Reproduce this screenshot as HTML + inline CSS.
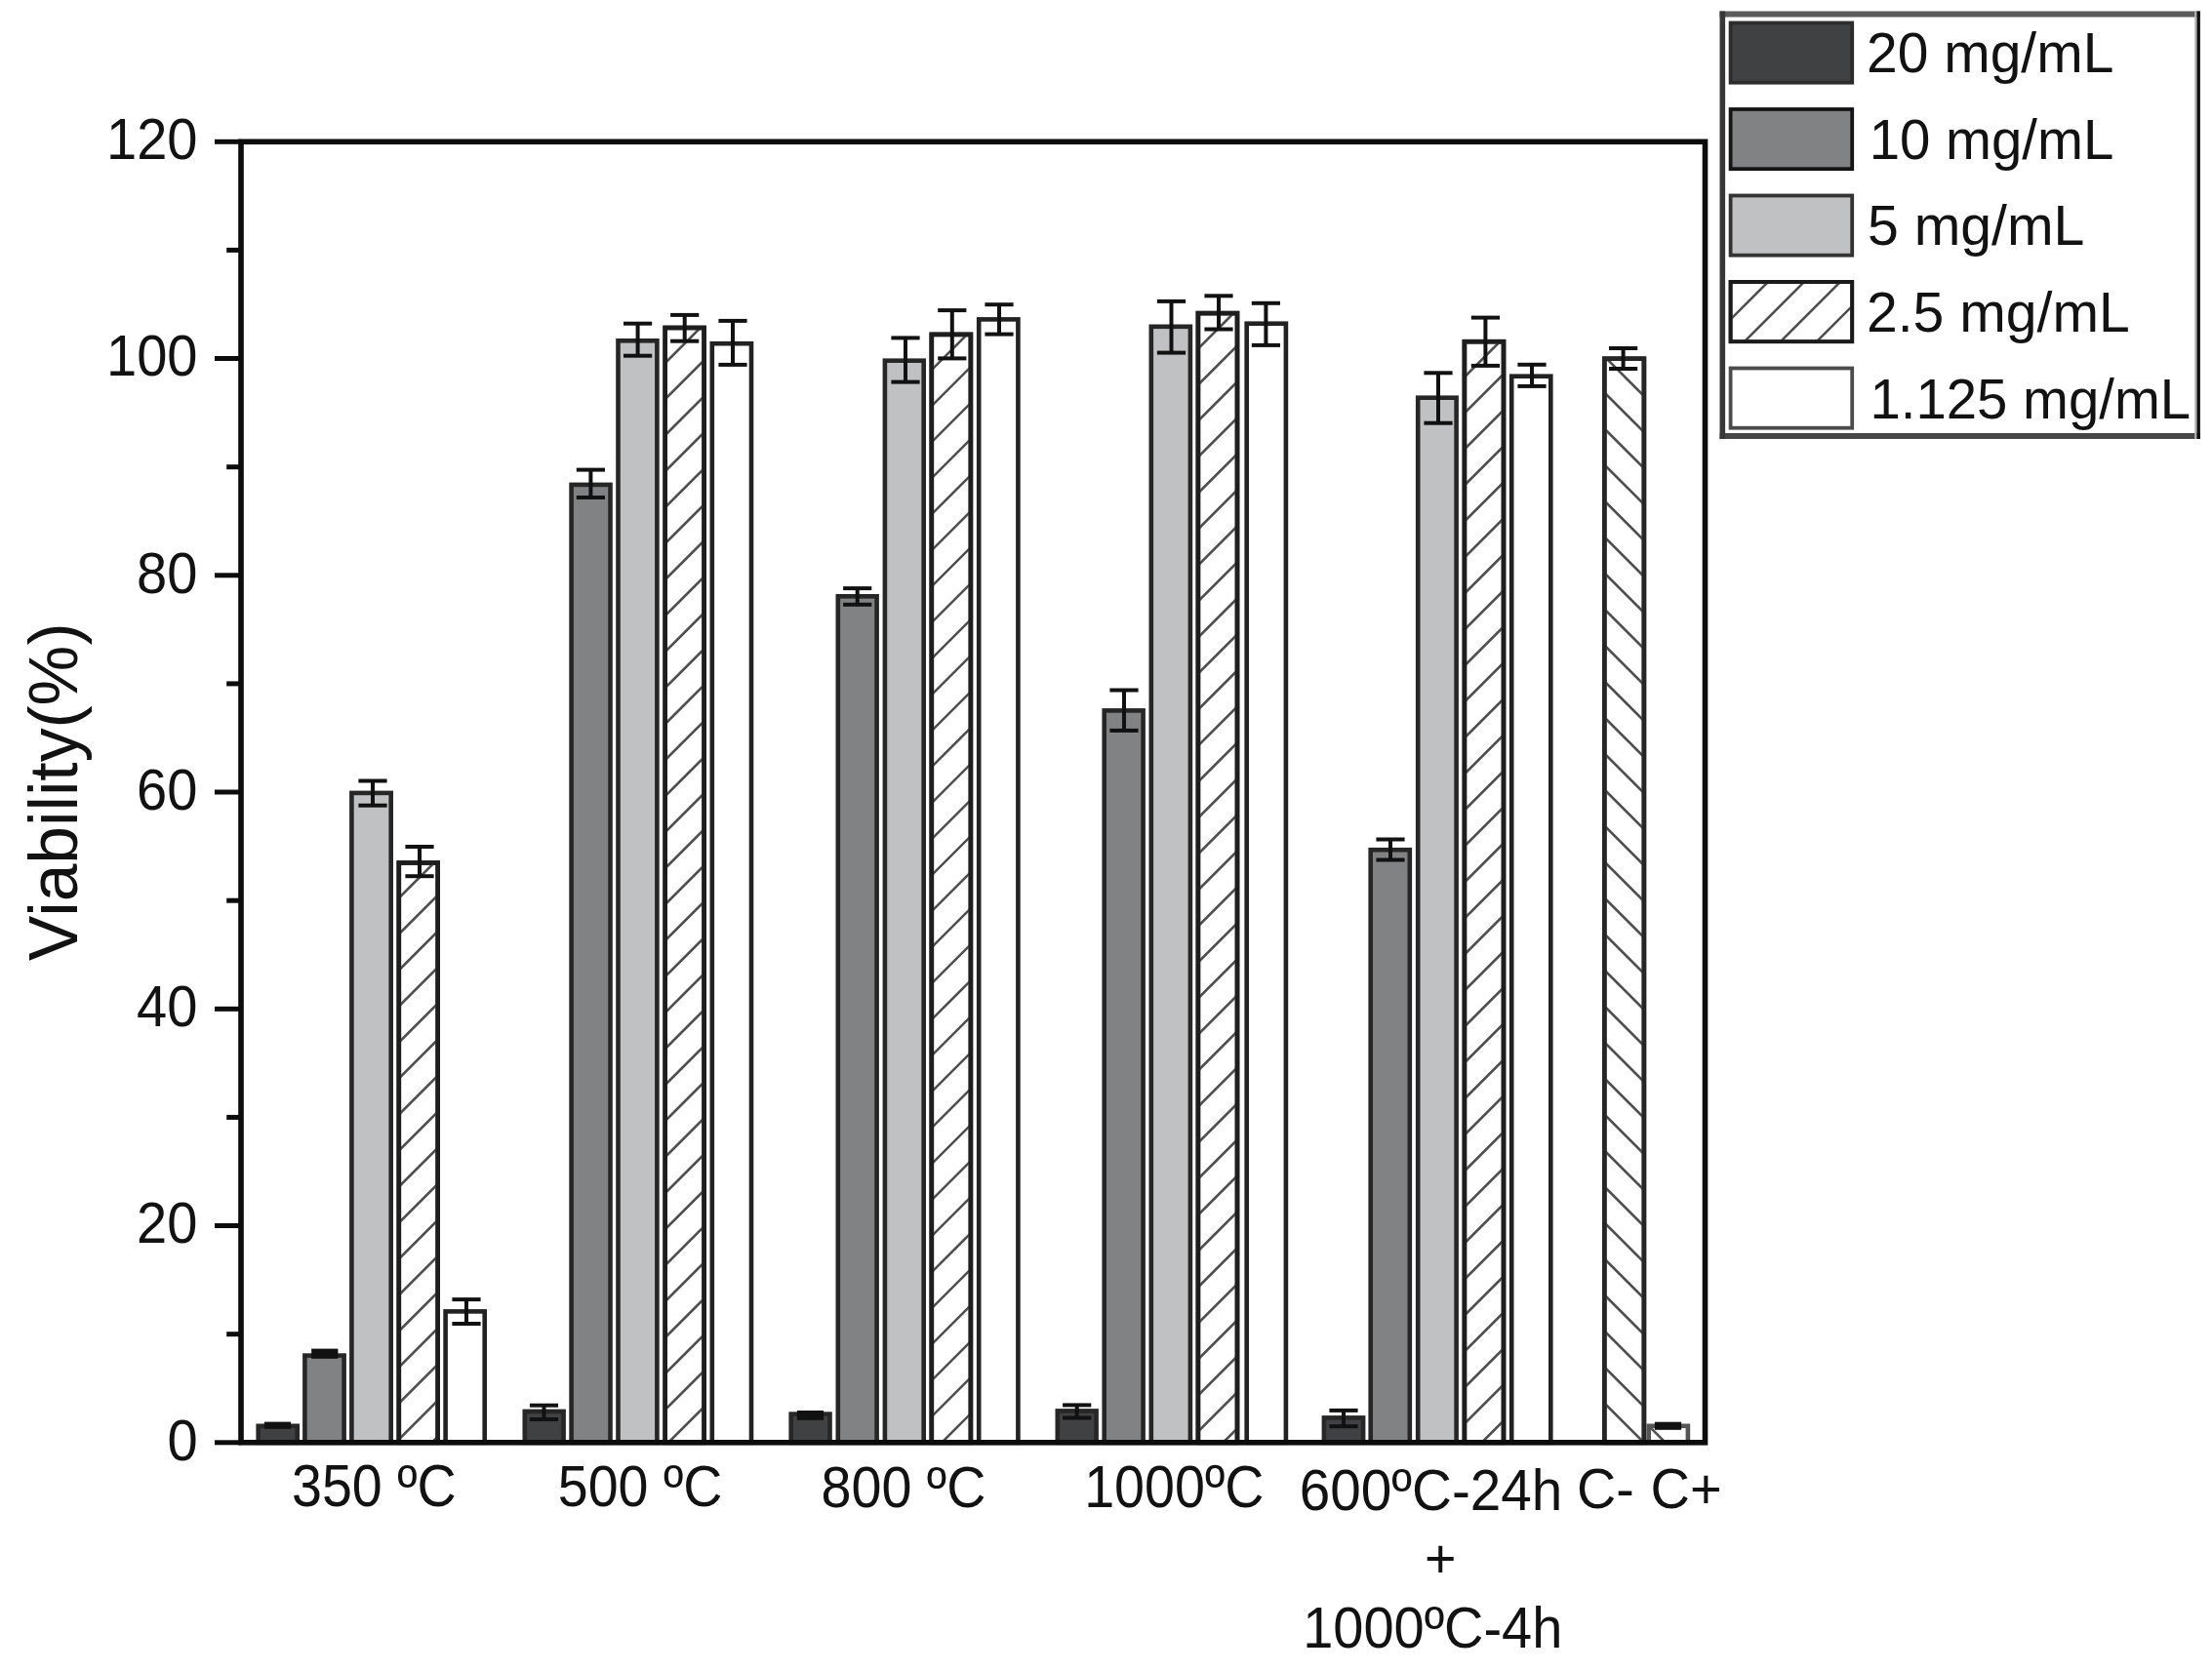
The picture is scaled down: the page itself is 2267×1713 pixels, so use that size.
<!DOCTYPE html>
<html lang="en"><head><meta charset="utf-8"><title>Viability chart</title>
<style>html,body{margin:0;padding:0;background:#fff;}body{width:2267px;height:1713px;overflow:hidden;}svg{display:block;filter:blur(0.7px);}text{font-family:'Liberation Sans', sans-serif;fill:#121212;}</style>
</head><body>
<svg width="2267" height="1713" viewBox="0 0 2267 1713">
<rect x="0" y="0" width="2267" height="1713" fill="#ffffff"/>
<defs>
<clipPath id="c3"><rect x="408.8" y="884.5" width="39.9" height="594.3"/></clipPath>
<clipPath id="c8"><rect x="681.7" y="336.0" width="39.9" height="1142.8"/></clipPath>
<clipPath id="c13"><rect x="954.8" y="342.9" width="40.1" height="1135.9"/></clipPath>
<clipPath id="c18"><rect x="1227.9" y="321.1" width="40.1" height="1157.7"/></clipPath>
<clipPath id="c23"><rect x="1500.9" y="350.2" width="40.1" height="1128.6"/></clipPath>
<clipPath id="c25"><rect x="1644.3" y="367.7" width="40.6" height="1111.1"/></clipPath>
<clipPath id="cl"><rect x="1774" y="289.5" width="124" height="60"/></clipPath>
</defs>
<g id="bars">
<rect x="264.7" y="1461.8" width="40.0" height="17.0" fill="#404143" stroke="#272728" stroke-width="4.6"/>
<rect x="312.4" y="1389.6" width="40.2" height="89.2" fill="#808284" stroke="#262627" stroke-width="4.6"/>
<rect x="360.4" y="812.9" width="40.3" height="665.9" fill="#c0c1c3" stroke="#262627" stroke-width="4.6"/>
<rect x="408.8" y="884.5" width="39.9" height="594.3" fill="#ffffff" stroke="#1e1e1e" stroke-width="4.6"/>
<g clip-path="url(#c3)" stroke="#4e4e4e" stroke-width="2.6">
<line x1="452.4" y1="840.0" x2="405.1" y2="887.3"/>
<line x1="452.4" y1="877.0" x2="405.1" y2="924.3"/>
<line x1="452.4" y1="914.0" x2="405.1" y2="961.3"/>
<line x1="452.4" y1="951.0" x2="405.1" y2="998.3"/>
<line x1="452.4" y1="988.0" x2="405.1" y2="1035.3"/>
<line x1="452.4" y1="1025.0" x2="405.1" y2="1072.3"/>
<line x1="452.4" y1="1062.0" x2="405.1" y2="1109.3"/>
<line x1="452.4" y1="1099.0" x2="405.1" y2="1146.3"/>
<line x1="452.4" y1="1136.0" x2="405.1" y2="1183.3"/>
<line x1="452.4" y1="1173.0" x2="405.1" y2="1220.3"/>
<line x1="452.4" y1="1210.0" x2="405.1" y2="1257.3"/>
<line x1="452.4" y1="1247.0" x2="405.1" y2="1294.3"/>
<line x1="452.4" y1="1284.0" x2="405.1" y2="1331.3"/>
<line x1="452.4" y1="1321.0" x2="405.1" y2="1368.3"/>
<line x1="452.4" y1="1358.0" x2="405.1" y2="1405.3"/>
<line x1="452.4" y1="1395.0" x2="405.1" y2="1442.3"/>
<line x1="452.4" y1="1432.0" x2="405.1" y2="1479.3"/>
<line x1="452.4" y1="1469.0" x2="405.1" y2="1516.3"/>
<line x1="452.4" y1="1506.0" x2="405.1" y2="1553.3"/>
<line x1="452.4" y1="1543.0" x2="405.1" y2="1590.3"/>
</g>
<rect x="408.8" y="884.5" width="39.9" height="594.3" fill="none" stroke="#1e1e1e" stroke-width="4.6"/>
<rect x="456.6" y="1344.4" width="40.1" height="134.4" fill="#ffffff" stroke="#222222" stroke-width="4.6"/>
<rect x="537.8" y="1446.9" width="39.8" height="31.9" fill="#404143" stroke="#272728" stroke-width="4.6"/>
<rect x="585.6" y="496.9" width="39.9" height="981.9" fill="#808284" stroke="#262627" stroke-width="4.6"/>
<rect x="633.5" y="349.3" width="39.9" height="1129.5" fill="#c0c1c3" stroke="#262627" stroke-width="4.6"/>
<rect x="681.7" y="336.0" width="39.9" height="1142.8" fill="#ffffff" stroke="#1e1e1e" stroke-width="4.6"/>
<g clip-path="url(#c8)" stroke="#4e4e4e" stroke-width="2.6">
<line x1="725.3" y1="291.5" x2="678.0" y2="338.8"/>
<line x1="725.3" y1="328.5" x2="678.0" y2="375.8"/>
<line x1="725.3" y1="365.5" x2="678.0" y2="412.8"/>
<line x1="725.3" y1="402.5" x2="678.0" y2="449.8"/>
<line x1="725.3" y1="439.5" x2="678.0" y2="486.8"/>
<line x1="725.3" y1="476.5" x2="678.0" y2="523.8"/>
<line x1="725.3" y1="513.5" x2="678.0" y2="560.8"/>
<line x1="725.3" y1="550.5" x2="678.0" y2="597.8"/>
<line x1="725.3" y1="587.5" x2="678.0" y2="634.8"/>
<line x1="725.3" y1="624.5" x2="678.0" y2="671.8"/>
<line x1="725.3" y1="661.5" x2="678.0" y2="708.8"/>
<line x1="725.3" y1="698.5" x2="678.0" y2="745.8"/>
<line x1="725.3" y1="735.5" x2="678.0" y2="782.8"/>
<line x1="725.3" y1="772.5" x2="678.0" y2="819.8"/>
<line x1="725.3" y1="809.5" x2="678.0" y2="856.8"/>
<line x1="725.3" y1="846.5" x2="678.0" y2="893.8"/>
<line x1="725.3" y1="883.5" x2="678.0" y2="930.8"/>
<line x1="725.3" y1="920.5" x2="678.0" y2="967.8"/>
<line x1="725.3" y1="957.5" x2="678.0" y2="1004.8"/>
<line x1="725.3" y1="994.5" x2="678.0" y2="1041.8"/>
<line x1="725.3" y1="1031.5" x2="678.0" y2="1078.8"/>
<line x1="725.3" y1="1068.5" x2="678.0" y2="1115.8"/>
<line x1="725.3" y1="1105.5" x2="678.0" y2="1152.8"/>
<line x1="725.3" y1="1142.5" x2="678.0" y2="1189.8"/>
<line x1="725.3" y1="1179.5" x2="678.0" y2="1226.8"/>
<line x1="725.3" y1="1216.5" x2="678.0" y2="1263.8"/>
<line x1="725.3" y1="1253.5" x2="678.0" y2="1300.8"/>
<line x1="725.3" y1="1290.5" x2="678.0" y2="1337.8"/>
<line x1="725.3" y1="1327.5" x2="678.0" y2="1374.8"/>
<line x1="725.3" y1="1364.5" x2="678.0" y2="1411.8"/>
<line x1="725.3" y1="1401.5" x2="678.0" y2="1448.8"/>
<line x1="725.3" y1="1438.5" x2="678.0" y2="1485.8"/>
<line x1="725.3" y1="1475.5" x2="678.0" y2="1522.8"/>
<line x1="725.3" y1="1512.5" x2="678.0" y2="1559.8"/>
</g>
<rect x="681.7" y="336.0" width="39.9" height="1142.8" fill="none" stroke="#1e1e1e" stroke-width="4.6"/>
<rect x="729.8" y="352.2" width="40.2" height="1126.6" fill="#ffffff" stroke="#222222" stroke-width="4.6"/>
<rect x="810.7" y="1449.6" width="39.8" height="29.2" fill="#404143" stroke="#272728" stroke-width="4.6"/>
<rect x="858.8" y="611.3" width="39.8" height="867.5" fill="#808284" stroke="#262627" stroke-width="4.6"/>
<rect x="906.9" y="369.7" width="39.8" height="1109.1" fill="#c0c1c3" stroke="#262627" stroke-width="4.6"/>
<rect x="954.8" y="342.9" width="40.1" height="1135.9" fill="#ffffff" stroke="#1e1e1e" stroke-width="4.6"/>
<g clip-path="url(#c13)" stroke="#4e4e4e" stroke-width="2.6">
<line x1="998.6" y1="298.4" x2="951.1" y2="345.9"/>
<line x1="998.6" y1="335.4" x2="951.1" y2="382.9"/>
<line x1="998.6" y1="372.4" x2="951.1" y2="419.9"/>
<line x1="998.6" y1="409.4" x2="951.1" y2="456.9"/>
<line x1="998.6" y1="446.4" x2="951.1" y2="493.9"/>
<line x1="998.6" y1="483.4" x2="951.1" y2="530.9"/>
<line x1="998.6" y1="520.4" x2="951.1" y2="567.9"/>
<line x1="998.6" y1="557.4" x2="951.1" y2="604.9"/>
<line x1="998.6" y1="594.4" x2="951.1" y2="641.9"/>
<line x1="998.6" y1="631.4" x2="951.1" y2="678.9"/>
<line x1="998.6" y1="668.4" x2="951.1" y2="715.9"/>
<line x1="998.6" y1="705.4" x2="951.1" y2="752.9"/>
<line x1="998.6" y1="742.4" x2="951.1" y2="789.9"/>
<line x1="998.6" y1="779.4" x2="951.1" y2="826.9"/>
<line x1="998.6" y1="816.4" x2="951.1" y2="863.9"/>
<line x1="998.6" y1="853.4" x2="951.1" y2="900.9"/>
<line x1="998.6" y1="890.4" x2="951.1" y2="937.9"/>
<line x1="998.6" y1="927.4" x2="951.1" y2="974.9"/>
<line x1="998.6" y1="964.4" x2="951.1" y2="1011.9"/>
<line x1="998.6" y1="1001.4" x2="951.1" y2="1048.9"/>
<line x1="998.6" y1="1038.4" x2="951.1" y2="1085.9"/>
<line x1="998.6" y1="1075.4" x2="951.1" y2="1122.9"/>
<line x1="998.6" y1="1112.4" x2="951.1" y2="1159.9"/>
<line x1="998.6" y1="1149.4" x2="951.1" y2="1196.9"/>
<line x1="998.6" y1="1186.4" x2="951.1" y2="1233.9"/>
<line x1="998.6" y1="1223.4" x2="951.1" y2="1270.9"/>
<line x1="998.6" y1="1260.4" x2="951.1" y2="1307.9"/>
<line x1="998.6" y1="1297.4" x2="951.1" y2="1344.9"/>
<line x1="998.6" y1="1334.4" x2="951.1" y2="1381.9"/>
<line x1="998.6" y1="1371.4" x2="951.1" y2="1418.9"/>
<line x1="998.6" y1="1408.4" x2="951.1" y2="1455.9"/>
<line x1="998.6" y1="1445.4" x2="951.1" y2="1492.9"/>
<line x1="998.6" y1="1482.4" x2="951.1" y2="1529.9"/>
<line x1="998.6" y1="1519.4" x2="951.1" y2="1566.9"/>
</g>
<rect x="954.8" y="342.9" width="40.1" height="1135.9" fill="none" stroke="#1e1e1e" stroke-width="4.6"/>
<rect x="1003.2" y="327.4" width="40.2" height="1151.4" fill="#ffffff" stroke="#222222" stroke-width="4.6"/>
<rect x="1083.8" y="1446.4" width="39.8" height="32.4" fill="#404143" stroke="#272728" stroke-width="4.6"/>
<rect x="1131.7" y="728.4" width="39.9" height="750.4" fill="#808284" stroke="#262627" stroke-width="4.6"/>
<rect x="1179.8" y="334.8" width="40.1" height="1144.0" fill="#c0c1c3" stroke="#262627" stroke-width="4.6"/>
<rect x="1227.9" y="321.1" width="40.1" height="1157.7" fill="#ffffff" stroke="#1e1e1e" stroke-width="4.6"/>
<g clip-path="url(#c18)" stroke="#4e4e4e" stroke-width="2.6">
<line x1="1271.7" y1="276.6" x2="1224.2" y2="324.1"/>
<line x1="1271.7" y1="313.6" x2="1224.2" y2="361.1"/>
<line x1="1271.7" y1="350.6" x2="1224.2" y2="398.1"/>
<line x1="1271.7" y1="387.6" x2="1224.2" y2="435.1"/>
<line x1="1271.7" y1="424.6" x2="1224.2" y2="472.1"/>
<line x1="1271.7" y1="461.6" x2="1224.2" y2="509.1"/>
<line x1="1271.7" y1="498.6" x2="1224.2" y2="546.1"/>
<line x1="1271.7" y1="535.6" x2="1224.2" y2="583.1"/>
<line x1="1271.7" y1="572.6" x2="1224.2" y2="620.1"/>
<line x1="1271.7" y1="609.6" x2="1224.2" y2="657.1"/>
<line x1="1271.7" y1="646.6" x2="1224.2" y2="694.1"/>
<line x1="1271.7" y1="683.6" x2="1224.2" y2="731.1"/>
<line x1="1271.7" y1="720.6" x2="1224.2" y2="768.1"/>
<line x1="1271.7" y1="757.6" x2="1224.2" y2="805.1"/>
<line x1="1271.7" y1="794.6" x2="1224.2" y2="842.1"/>
<line x1="1271.7" y1="831.6" x2="1224.2" y2="879.1"/>
<line x1="1271.7" y1="868.6" x2="1224.2" y2="916.1"/>
<line x1="1271.7" y1="905.6" x2="1224.2" y2="953.1"/>
<line x1="1271.7" y1="942.6" x2="1224.2" y2="990.1"/>
<line x1="1271.7" y1="979.6" x2="1224.2" y2="1027.1"/>
<line x1="1271.7" y1="1016.6" x2="1224.2" y2="1064.1"/>
<line x1="1271.7" y1="1053.6" x2="1224.2" y2="1101.1"/>
<line x1="1271.7" y1="1090.6" x2="1224.2" y2="1138.1"/>
<line x1="1271.7" y1="1127.6" x2="1224.2" y2="1175.1"/>
<line x1="1271.7" y1="1164.6" x2="1224.2" y2="1212.1"/>
<line x1="1271.7" y1="1201.6" x2="1224.2" y2="1249.1"/>
<line x1="1271.7" y1="1238.6" x2="1224.2" y2="1286.1"/>
<line x1="1271.7" y1="1275.6" x2="1224.2" y2="1323.1"/>
<line x1="1271.7" y1="1312.6" x2="1224.2" y2="1360.1"/>
<line x1="1271.7" y1="1349.6" x2="1224.2" y2="1397.1"/>
<line x1="1271.7" y1="1386.6" x2="1224.2" y2="1434.1"/>
<line x1="1271.7" y1="1423.6" x2="1224.2" y2="1471.1"/>
<line x1="1271.7" y1="1460.6" x2="1224.2" y2="1508.1"/>
<line x1="1271.7" y1="1497.6" x2="1224.2" y2="1545.1"/>
<line x1="1271.7" y1="1534.6" x2="1224.2" y2="1582.1"/>
</g>
<rect x="1227.9" y="321.1" width="40.1" height="1157.7" fill="none" stroke="#1e1e1e" stroke-width="4.6"/>
<rect x="1277.7" y="331.7" width="40.2" height="1147.1" fill="#ffffff" stroke="#222222" stroke-width="4.6"/>
<rect x="1356.9" y="1453.4" width="40.2" height="25.4" fill="#404143" stroke="#272728" stroke-width="4.6"/>
<rect x="1404.7" y="871.2" width="40.1" height="607.6" fill="#808284" stroke="#262627" stroke-width="4.6"/>
<rect x="1453.2" y="407.7" width="39.4" height="1071.1" fill="#c0c1c3" stroke="#262627" stroke-width="4.6"/>
<rect x="1500.9" y="350.2" width="40.1" height="1128.6" fill="#ffffff" stroke="#1e1e1e" stroke-width="4.6"/>
<g clip-path="url(#c23)" stroke="#4e4e4e" stroke-width="2.6">
<line x1="1544.7" y1="305.7" x2="1497.2" y2="353.2"/>
<line x1="1544.7" y1="342.7" x2="1497.2" y2="390.2"/>
<line x1="1544.7" y1="379.7" x2="1497.2" y2="427.2"/>
<line x1="1544.7" y1="416.7" x2="1497.2" y2="464.2"/>
<line x1="1544.7" y1="453.7" x2="1497.2" y2="501.2"/>
<line x1="1544.7" y1="490.7" x2="1497.2" y2="538.2"/>
<line x1="1544.7" y1="527.7" x2="1497.2" y2="575.2"/>
<line x1="1544.7" y1="564.7" x2="1497.2" y2="612.2"/>
<line x1="1544.7" y1="601.7" x2="1497.2" y2="649.2"/>
<line x1="1544.7" y1="638.7" x2="1497.2" y2="686.2"/>
<line x1="1544.7" y1="675.7" x2="1497.2" y2="723.2"/>
<line x1="1544.7" y1="712.7" x2="1497.2" y2="760.2"/>
<line x1="1544.7" y1="749.7" x2="1497.2" y2="797.2"/>
<line x1="1544.7" y1="786.7" x2="1497.2" y2="834.2"/>
<line x1="1544.7" y1="823.7" x2="1497.2" y2="871.2"/>
<line x1="1544.7" y1="860.7" x2="1497.2" y2="908.2"/>
<line x1="1544.7" y1="897.7" x2="1497.2" y2="945.2"/>
<line x1="1544.7" y1="934.7" x2="1497.2" y2="982.2"/>
<line x1="1544.7" y1="971.7" x2="1497.2" y2="1019.2"/>
<line x1="1544.7" y1="1008.7" x2="1497.2" y2="1056.2"/>
<line x1="1544.7" y1="1045.7" x2="1497.2" y2="1093.2"/>
<line x1="1544.7" y1="1082.7" x2="1497.2" y2="1130.2"/>
<line x1="1544.7" y1="1119.7" x2="1497.2" y2="1167.2"/>
<line x1="1544.7" y1="1156.7" x2="1497.2" y2="1204.2"/>
<line x1="1544.7" y1="1193.7" x2="1497.2" y2="1241.2"/>
<line x1="1544.7" y1="1230.7" x2="1497.2" y2="1278.2"/>
<line x1="1544.7" y1="1267.7" x2="1497.2" y2="1315.2"/>
<line x1="1544.7" y1="1304.7" x2="1497.2" y2="1352.2"/>
<line x1="1544.7" y1="1341.7" x2="1497.2" y2="1389.2"/>
<line x1="1544.7" y1="1378.7" x2="1497.2" y2="1426.2"/>
<line x1="1544.7" y1="1415.7" x2="1497.2" y2="1463.2"/>
<line x1="1544.7" y1="1452.7" x2="1497.2" y2="1500.2"/>
<line x1="1544.7" y1="1489.7" x2="1497.2" y2="1537.2"/>
<line x1="1544.7" y1="1526.7" x2="1497.2" y2="1574.2"/>
</g>
<rect x="1500.9" y="350.2" width="40.1" height="1128.6" fill="none" stroke="#1e1e1e" stroke-width="4.6"/>
<rect x="1549.2" y="385.7" width="40.1" height="1093.1" fill="#ffffff" stroke="#222222" stroke-width="4.6"/>
<rect x="1644.3" y="367.7" width="40.6" height="1111.1" fill="#ffffff" stroke="#262626" stroke-width="4.6"/>
<g clip-path="url(#c25)" stroke="#4e4e4e" stroke-width="2.6">
<line x1="1640.6" y1="324.7" x2="1688.6" y2="372.7"/>
<line x1="1640.6" y1="361.7" x2="1688.6" y2="409.7"/>
<line x1="1640.6" y1="398.7" x2="1688.6" y2="446.7"/>
<line x1="1640.6" y1="435.7" x2="1688.6" y2="483.7"/>
<line x1="1640.6" y1="472.7" x2="1688.6" y2="520.7"/>
<line x1="1640.6" y1="509.7" x2="1688.6" y2="557.7"/>
<line x1="1640.6" y1="546.7" x2="1688.6" y2="594.7"/>
<line x1="1640.6" y1="583.7" x2="1688.6" y2="631.7"/>
<line x1="1640.6" y1="620.7" x2="1688.6" y2="668.7"/>
<line x1="1640.6" y1="657.7" x2="1688.6" y2="705.7"/>
<line x1="1640.6" y1="694.7" x2="1688.6" y2="742.7"/>
<line x1="1640.6" y1="731.7" x2="1688.6" y2="779.7"/>
<line x1="1640.6" y1="768.7" x2="1688.6" y2="816.7"/>
<line x1="1640.6" y1="805.7" x2="1688.6" y2="853.7"/>
<line x1="1640.6" y1="842.7" x2="1688.6" y2="890.7"/>
<line x1="1640.6" y1="879.7" x2="1688.6" y2="927.7"/>
<line x1="1640.6" y1="916.7" x2="1688.6" y2="964.7"/>
<line x1="1640.6" y1="953.7" x2="1688.6" y2="1001.7"/>
<line x1="1640.6" y1="990.7" x2="1688.6" y2="1038.7"/>
<line x1="1640.6" y1="1027.7" x2="1688.6" y2="1075.7"/>
<line x1="1640.6" y1="1064.7" x2="1688.6" y2="1112.7"/>
<line x1="1640.6" y1="1101.7" x2="1688.6" y2="1149.7"/>
<line x1="1640.6" y1="1138.7" x2="1688.6" y2="1186.7"/>
<line x1="1640.6" y1="1175.7" x2="1688.6" y2="1223.7"/>
<line x1="1640.6" y1="1212.7" x2="1688.6" y2="1260.7"/>
<line x1="1640.6" y1="1249.7" x2="1688.6" y2="1297.7"/>
<line x1="1640.6" y1="1286.7" x2="1688.6" y2="1334.7"/>
<line x1="1640.6" y1="1323.7" x2="1688.6" y2="1371.7"/>
<line x1="1640.6" y1="1360.7" x2="1688.6" y2="1408.7"/>
<line x1="1640.6" y1="1397.7" x2="1688.6" y2="1445.7"/>
<line x1="1640.6" y1="1434.7" x2="1688.6" y2="1482.7"/>
<line x1="1640.6" y1="1471.7" x2="1688.6" y2="1519.7"/>
<line x1="1640.6" y1="1508.7" x2="1688.6" y2="1556.7"/>
<line x1="1640.6" y1="1545.7" x2="1688.6" y2="1593.7"/>
</g>
<rect x="1644.3" y="367.7" width="40.6" height="1111.1" fill="none" stroke="#262626" stroke-width="4.6"/>
<rect x="1689.7" y="1461.8" width="40.2" height="17.0" fill="#ffffff" stroke="#555555" stroke-width="4.6"/>
</g>
<line x1="1692" y1="1464" x2="1705" y2="1477" stroke="#555" stroke-width="2.5"/>
<g id="err" stroke="#111111" fill="none">
<rect x="270.9" y="1457.6" width="27.2" height="7.2" fill="#111111" stroke="none"/>
<rect x="319.2" y="1382.6" width="27.2" height="10.2" fill="#111111" stroke="none"/>
<line x1="382.0" y1="800.5" x2="382.0" y2="825.7" stroke-width="4.0"/>
<line x1="367.4" y1="800.5" x2="396.6" y2="800.5" stroke-width="4.0"/>
<line x1="367.4" y1="825.7" x2="396.6" y2="825.7" stroke-width="4.0"/>
<line x1="430.0" y1="868.0" x2="430.0" y2="898.2" stroke-width="4.0"/>
<line x1="415.4" y1="868.0" x2="444.6" y2="868.0" stroke-width="4.0"/>
<line x1="415.4" y1="898.2" x2="444.6" y2="898.2" stroke-width="4.0"/>
<line x1="478.0" y1="1332.1" x2="478.0" y2="1357.0" stroke-width="4.0"/>
<line x1="463.4" y1="1332.1" x2="492.6" y2="1332.1" stroke-width="4.0"/>
<line x1="463.4" y1="1357.0" x2="492.6" y2="1357.0" stroke-width="4.0"/>
<line x1="557.5" y1="1440.7" x2="557.5" y2="1455.0" stroke-width="4.0"/>
<line x1="542.9" y1="1440.7" x2="572.1" y2="1440.7" stroke-width="4.0"/>
<line x1="542.9" y1="1455.0" x2="572.1" y2="1455.0" stroke-width="4.0"/>
<line x1="605.4" y1="481.6" x2="605.4" y2="510.0" stroke-width="4.0"/>
<line x1="590.8" y1="481.6" x2="620.0" y2="481.6" stroke-width="4.0"/>
<line x1="590.8" y1="510.0" x2="620.0" y2="510.0" stroke-width="4.0"/>
<line x1="653.6" y1="331.7" x2="653.6" y2="364.7" stroke-width="4.0"/>
<line x1="639.0" y1="331.7" x2="668.2" y2="331.7" stroke-width="4.0"/>
<line x1="639.0" y1="364.7" x2="668.2" y2="364.7" stroke-width="4.0"/>
<line x1="701.7" y1="322.9" x2="701.7" y2="349.7" stroke-width="4.0"/>
<line x1="687.1" y1="322.9" x2="716.3" y2="322.9" stroke-width="4.0"/>
<line x1="687.1" y1="349.7" x2="716.3" y2="349.7" stroke-width="4.0"/>
<line x1="751.0" y1="328.9" x2="751.0" y2="373.9" stroke-width="4.0"/>
<line x1="736.4" y1="328.9" x2="765.6" y2="328.9" stroke-width="4.0"/>
<line x1="736.4" y1="373.9" x2="765.6" y2="373.9" stroke-width="4.0"/>
<rect x="816.9" y="1446.0" width="27.2" height="9.8" fill="#111111" stroke="none"/>
<line x1="878.7" y1="603.1" x2="878.7" y2="619.8" stroke-width="4.0"/>
<line x1="864.1" y1="603.1" x2="893.3" y2="603.1" stroke-width="4.0"/>
<line x1="864.1" y1="619.8" x2="893.3" y2="619.8" stroke-width="4.0"/>
<line x1="928.0" y1="346.4" x2="928.0" y2="391.6" stroke-width="4.0"/>
<line x1="913.4" y1="346.4" x2="942.6" y2="346.4" stroke-width="4.0"/>
<line x1="913.4" y1="391.6" x2="942.6" y2="391.6" stroke-width="4.0"/>
<line x1="975.8" y1="318.1" x2="975.8" y2="367.4" stroke-width="4.0"/>
<line x1="961.2" y1="318.1" x2="990.4" y2="318.1" stroke-width="4.0"/>
<line x1="961.2" y1="367.4" x2="990.4" y2="367.4" stroke-width="4.0"/>
<line x1="1024.0" y1="312.2" x2="1024.0" y2="342.6" stroke-width="4.0"/>
<line x1="1009.4" y1="312.2" x2="1038.6" y2="312.2" stroke-width="4.0"/>
<line x1="1009.4" y1="342.6" x2="1038.6" y2="342.6" stroke-width="4.0"/>
<line x1="1103.7" y1="1440.4" x2="1103.7" y2="1453.5" stroke-width="4.0"/>
<line x1="1089.1" y1="1440.4" x2="1118.3" y2="1440.4" stroke-width="4.0"/>
<line x1="1089.1" y1="1453.5" x2="1118.3" y2="1453.5" stroke-width="4.0"/>
<line x1="1152.0" y1="707.5" x2="1152.0" y2="748.9" stroke-width="4.0"/>
<line x1="1137.4" y1="707.5" x2="1166.6" y2="707.5" stroke-width="4.0"/>
<line x1="1137.4" y1="748.9" x2="1166.6" y2="748.9" stroke-width="4.0"/>
<line x1="1200.5" y1="308.9" x2="1200.5" y2="361.6" stroke-width="4.0"/>
<line x1="1185.9" y1="308.9" x2="1215.1" y2="308.9" stroke-width="4.0"/>
<line x1="1185.9" y1="361.6" x2="1215.1" y2="361.6" stroke-width="4.0"/>
<line x1="1249.0" y1="303.3" x2="1249.0" y2="337.5" stroke-width="4.0"/>
<line x1="1234.4" y1="303.3" x2="1263.6" y2="303.3" stroke-width="4.0"/>
<line x1="1234.4" y1="337.5" x2="1263.6" y2="337.5" stroke-width="4.0"/>
<line x1="1297.4" y1="310.8" x2="1297.4" y2="353.9" stroke-width="4.0"/>
<line x1="1282.8" y1="310.8" x2="1312.0" y2="310.8" stroke-width="4.0"/>
<line x1="1282.8" y1="353.9" x2="1312.0" y2="353.9" stroke-width="4.0"/>
<line x1="1377.0" y1="1445.9" x2="1377.0" y2="1462.2" stroke-width="4.0"/>
<line x1="1362.4" y1="1445.9" x2="1391.6" y2="1445.9" stroke-width="4.0"/>
<line x1="1362.4" y1="1462.2" x2="1391.6" y2="1462.2" stroke-width="4.0"/>
<line x1="1425.0" y1="860.5" x2="1425.0" y2="881.5" stroke-width="4.0"/>
<line x1="1410.4" y1="860.5" x2="1439.6" y2="860.5" stroke-width="4.0"/>
<line x1="1410.4" y1="881.5" x2="1439.6" y2="881.5" stroke-width="4.0"/>
<line x1="1474.0" y1="382.3" x2="1474.0" y2="433.7" stroke-width="4.0"/>
<line x1="1459.4" y1="382.3" x2="1488.6" y2="382.3" stroke-width="4.0"/>
<line x1="1459.4" y1="433.7" x2="1488.6" y2="433.7" stroke-width="4.0"/>
<line x1="1522.4" y1="325.6" x2="1522.4" y2="374.9" stroke-width="4.0"/>
<line x1="1507.8" y1="325.6" x2="1537.0" y2="325.6" stroke-width="4.0"/>
<line x1="1507.8" y1="374.9" x2="1537.0" y2="374.9" stroke-width="4.0"/>
<line x1="1570.0" y1="373.8" x2="1570.0" y2="395.9" stroke-width="4.0"/>
<line x1="1555.4" y1="373.8" x2="1584.6" y2="373.8" stroke-width="4.0"/>
<line x1="1555.4" y1="395.9" x2="1584.6" y2="395.9" stroke-width="4.0"/>
<line x1="1663.6" y1="357.0" x2="1663.6" y2="378.0" stroke-width="4.0"/>
<line x1="1649.0" y1="357.0" x2="1678.2" y2="357.0" stroke-width="4.0"/>
<line x1="1649.0" y1="378.0" x2="1678.2" y2="378.0" stroke-width="4.0"/>
<rect x="1695.9" y="1457.7" width="27.2" height="8.1" fill="#111111" stroke="none"/>
</g>
<g id="axes" stroke="#0c0c0c" fill="none">
<rect x="247.0" y="145.3" width="1500.5" height="1333.5" stroke-width="5.6"/>
<line x1="220.0" y1="1478.8" x2="247.0" y2="1478.8" stroke-width="5.0"/>
<line x1="232.2" y1="1367.7" x2="247.0" y2="1367.7" stroke-width="5.0"/>
<line x1="220.0" y1="1256.5" x2="247.0" y2="1256.5" stroke-width="5.0"/>
<line x1="232.2" y1="1145.4" x2="247.0" y2="1145.4" stroke-width="5.0"/>
<line x1="220.0" y1="1034.3" x2="247.0" y2="1034.3" stroke-width="5.0"/>
<line x1="232.2" y1="923.2" x2="247.0" y2="923.2" stroke-width="5.0"/>
<line x1="220.0" y1="812.0" x2="247.0" y2="812.0" stroke-width="5.0"/>
<line x1="232.2" y1="700.9" x2="247.0" y2="700.9" stroke-width="5.0"/>
<line x1="220.0" y1="589.8" x2="247.0" y2="589.8" stroke-width="5.0"/>
<line x1="232.2" y1="478.7" x2="247.0" y2="478.7" stroke-width="5.0"/>
<line x1="220.0" y1="367.5" x2="247.0" y2="367.5" stroke-width="5.0"/>
<line x1="232.2" y1="256.4" x2="247.0" y2="256.4" stroke-width="5.0"/>
<line x1="220.0" y1="145.3" x2="247.0" y2="145.3" stroke-width="5.0"/>
</g>
<g id="ylabels">
<text transform="translate(171.52 1496.70) scale(0.9346 1)" font-size="60.00">0</text>
<text transform="translate(140.12 1274.45) scale(0.9346 1)" font-size="60.00">20</text>
<text transform="translate(140.12 1052.20) scale(0.9346 1)" font-size="60.00">40</text>
<text transform="translate(140.12 829.95) scale(0.9346 1)" font-size="60.00">60</text>
<text transform="translate(140.12 607.70) scale(0.9346 1)" font-size="60.00">80</text>
<text transform="translate(108.99 385.45) scale(0.9346 1)" font-size="60.00">100</text>
<text transform="translate(108.99 163.20) scale(0.9346 1)" font-size="60.00">120</text>
</g>
<text id="ytitle" font-size="69.80" transform="translate(78.5 984.95) rotate(-90) scale(0.9966 1)">Viability(%)</text>
<g id="xlabels">
<text transform="translate(298.98 1544.40) scale(0.9223 1)" font-size="60.28">350 ºC</text>
<text transform="translate(571.78 1544.00) scale(0.9305 1)" font-size="59.72">500 ºC</text>
<text transform="translate(841.50 1545.42) scale(0.9546 1)" font-size="58.31">800 ºC</text>
<text transform="translate(1111.13 1544.59) scale(0.9189 1)" font-size="60.56">1000ºC</text>
<text transform="translate(1331.77 1548.41) scale(0.9599 1)" font-size="59.05">600ºC-24h</text>
<text transform="translate(1460.02 1616.67) scale(0.9883 1)" font-size="56.33">+</text>
<text transform="translate(1335.20 1688.81) scale(0.9475 1)" font-size="59.05">1000ºC-4h</text>
<text transform="translate(1616.11 1546.02) scale(0.9581 1)" font-size="58.17">C-</text>
<text transform="translate(1691.60 1546.02) scale(0.9630 1)" font-size="58.17">C+</text>
</g>
<g id="legend">
<rect x="1765.3" y="14.6" width="486.7" height="432.2" fill="#ffffff" stroke="none"/>
<line x1="1762.5" y1="14.6" x2="2254.8" y2="14.6" stroke="#5c5c5c" stroke-width="6.0"/>
<line x1="1762.5" y1="446.9" x2="2254.8" y2="446.9" stroke="#474747" stroke-width="6.0"/>
<line x1="1765.3" y1="11.6" x2="1765.3" y2="449.9" stroke="#383838" stroke-width="5.6"/>
<line x1="2250.4" y1="11.6" x2="2250.4" y2="449.9" stroke="#b4b4b4" stroke-width="2.4"/>
<line x1="2253.2" y1="11.6" x2="2253.2" y2="449.9" stroke="#101010" stroke-width="3.4"/>
<rect x="1773.6" y="23.5" width="124.6" height="61.2" fill="#404143" stroke="#2c2c2d" stroke-width="3.8"/>
<rect x="1773.6" y="112.0" width="124.6" height="61.2" fill="#808284" stroke="#141414" stroke-width="3.8"/>
<rect x="1773.6" y="200.5" width="124.6" height="61.2" fill="#c0c1c3" stroke="#333333" stroke-width="3.8"/>
<rect x="1773.6" y="289.0" width="124.6" height="61.2" fill="#ffffff" stroke="#1a1a1a" stroke-width="3.8"/>
<g clip-path="url(#cl)" stroke="#4e4e4e" stroke-width="2.6">
<line x1="1704.0" y1="360" x2="1784.0" y2="280"/>
<line x1="1741.0" y1="360" x2="1821.0" y2="280"/>
<line x1="1778.0" y1="360" x2="1858.0" y2="280"/>
<line x1="1815.0" y1="360" x2="1895.0" y2="280"/>
<line x1="1852.0" y1="360" x2="1932.0" y2="280"/>
<line x1="1889.0" y1="360" x2="1969.0" y2="280"/>
<line x1="1926.0" y1="360" x2="2006.0" y2="280"/>
</g>
<rect x="1773.6" y="289.0" width="124.6" height="61.2" fill="none" stroke="#1a1a1a" stroke-width="3.8"/>
<rect x="1773.6" y="377.5" width="124.6" height="61.2" fill="#ffffff" stroke="#4c4c4c" stroke-width="3.8"/>
<g id="legendtext">
<text transform="translate(1912.95 73.90) scale(0.9930 1)" font-size="57.40">20 mg/mL</text>
<text transform="translate(1915.67 162.65) scale(0.9823 1)" font-size="57.40">10 mg/mL</text>
<text transform="translate(1914.01 251.40) scale(0.9955 1)" font-size="57.40">5 mg/mL</text>
<text transform="translate(1912.94 340.15) scale(0.9950 1)" font-size="57.40">2.5 mg/mL</text>
<text transform="translate(1916.47 428.90) scale(0.9814 1)" font-size="57.40">1.125 mg/mL</text>
</g>
</g>
</svg>
</body></html>
